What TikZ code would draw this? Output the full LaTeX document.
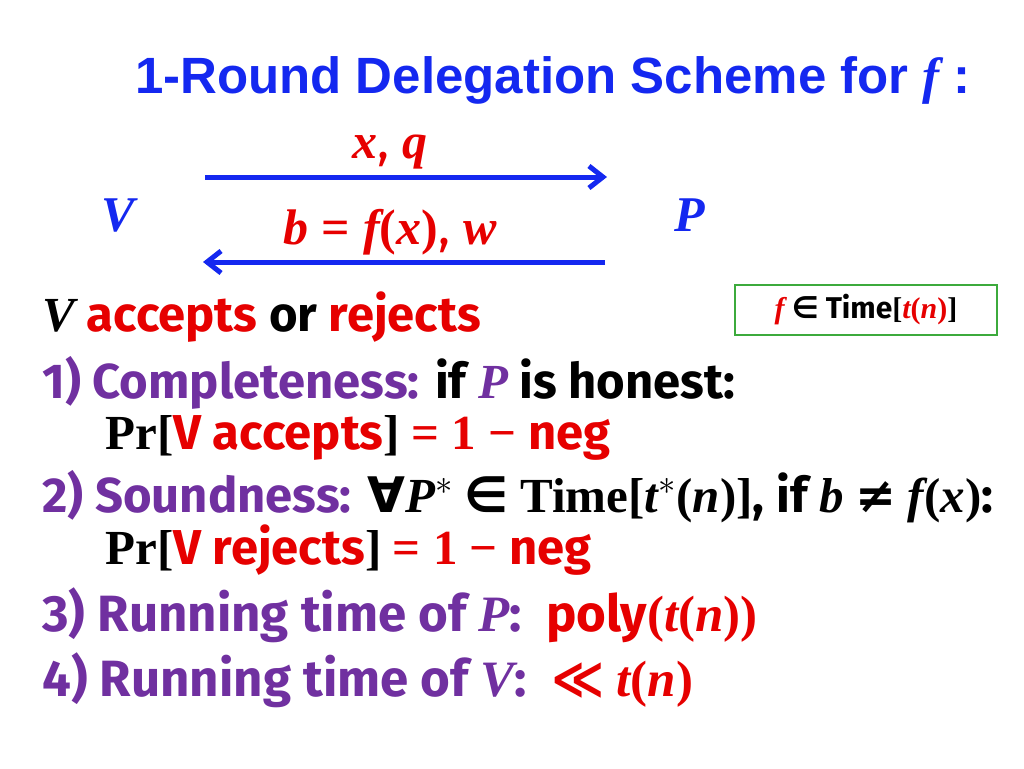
\documentclass[tikz,border=0pt]{standalone}
\usetikzlibrary{arrows.meta}
\usepackage{fontspec}
\setmainfont{Fira Sans}
\newfontfamily\titlefont{Liberation Sans}
\newfontfamily\mfont{Liberation Serif}
\newfontfamily\sfont{DejaVu Sans}
\newcommand{\mv}[1]{{\mfont\bfseries\itshape #1}}
\newcommand{\mr}[1]{{\mfont\bfseries #1}}
\newcommand{\sy}[1]{{\sfont #1}}
\definecolor{tblue}{RGB}{20,40,240}
\definecolor{tred}{RGB}{230,0,0}
\definecolor{tpurple}{RGB}{112,48,160}
\definecolor{tgreen}{RGB}{60,170,60}
\begin{document}
\begin{tikzpicture}[x=0.5pt,y=-0.5pt,
  txt/.style={anchor=west,inner sep=0pt,font=\fontsize{24.5}{28}\selectfont\bfseries},
  arr/.style={tblue,line width=2.5pt,-{Straight Barb[length=7pt,width=11pt]}}]
\useasboundingbox (0,0) rectangle (1024,768);
\node[inner sep=0pt,text=tblue,font=\titlefont\fontsize{25.5}{30}\selectfont\bfseries] (title) at (553,80) {1-Round Delegation Scheme for \mv{f} :};
\coordinate (a1s) at (205,177); \coordinate (a1e) at (607,177);
\coordinate (a2s) at (605,262); \coordinate (a2e) at (203,262);
\draw[arr] (a1s) -- (a1e);
\draw[arr] (a2s) -- (a2e);
\node[inner sep=0pt,text=tred,font=\fontsize{25}{29}\selectfont] (xq) at (390,152) {\mv{x}, \mv{q}};
\node[inner sep=0pt,text=tred,font=\fontsize{25}{29}\selectfont] (bf) at (390,232) {\mv{b} \mr{=} \mv{f}\mr{(}\mv{x}\mr{)}, \mv{w}};
\node[inner sep=0pt,text=tblue,font=\fontsize{25}{29}\selectfont] (V) at (118,215) {\mv{V}};
\node[inner sep=0pt,text=tblue,font=\fontsize{25}{29}\selectfont] (P) at (690,215) {\mv{P}};
\node[txt] (acc) at (42,317) {\mv{V} \textcolor{tred}{accepts} or \textcolor{tred}{rejects}};
\node[draw=tgreen,line width=0.8pt,minimum width=131pt,minimum height=25pt,inner sep=0pt,font=\fontsize{15}{18}\selectfont\bfseries] (box) at (866,310) {\textcolor{tred}{\mv{f}} \sy{∈} Time\mr{[}\textcolor{tred}{\mv{t}\mr{(}\mv{n}\mr{)}}\mr{]}};
\node[txt] (l1) at (42,383) {\textcolor{tpurple}{1) Completeness:} if \textcolor{tpurple}{\mv{P}} is honest:};
\node[txt] (l1b) at (105,438) {\mr{Pr[}\textcolor{tred}{V accepts}\mr{]} \textcolor{tred}{\mr{= 1 −} neg}};
\node[txt] (l2) at (42,497) {\textcolor{tpurple}{2) Soundness:} \sy{∀}\mv{P}$^{*}$ \sy{∈} \mr{Time[}\mv{t}$^{*}$\mr{(}\mv{n}\mr{)]}, if \mv{b} \sy{≠} \mv{f}\mr{(}\mv{x}\mr{)}:};
\node[txt] (l2b) at (105,550) {\mr{Pr[}\textcolor{tred}{V rejects}\mr{]} \textcolor{tred}{\mr{= 1 −} neg}};
\node[txt,font=\fontsize{25.5}{30}\selectfont\bfseries] (l3) at (42,615) {\textcolor{tpurple}{3) Running time of \mv{P}:}\ \ \textcolor{tred}{poly\mr{(}\mv{t}\mr{(}\mv{n}\mr{))}}};
\node[txt,font=\fontsize{25.5}{30}\selectfont\bfseries] (l4) at (42,680) {\textcolor{tpurple}{4) Running time of \mv{V}:}\ \ \textcolor{tred}{\sy{≪} \mv{t}\mr{(}\mv{n}\mr{)}}};
\end{tikzpicture}
\end{document}
